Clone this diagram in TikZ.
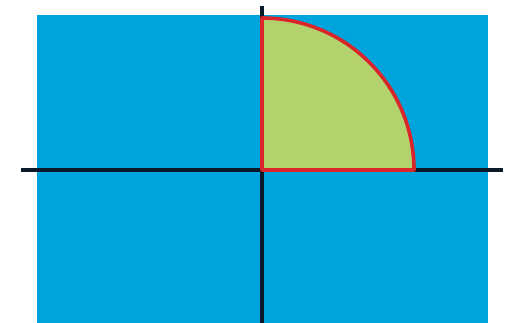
\documentclass[tikz,border=0pt]{standalone}
\usetikzlibrary{positioning}
\definecolor{cblue}{HTML}{00A4DC}
\definecolor{cgreen}{HTML}{B3D26E}
\definecolor{cred}{HTML}{D8262B}
\definecolor{caxis}{HTML}{0B1A28}
\tikzset{
  axis/.style={draw=caxis, line width=4pt},
  sector/.style={draw=cred, fill=cgreen, line width=3.6pt, line join=round},
}

\begin{document}
\begin{tikzpicture}[x=1pt, y=-1pt]
  \useasboundingbox (0,0) rectangle (512,323);
  \fill[cblue] (37,15) rectangle (488,323);
  \coordinate (o) at (262,170);
  \coordinate (xl) at (21,170);
  \coordinate (xr) at (503,170);
  \coordinate (yt) at (262,6);
  \coordinate (yb) at (262,323);
  \draw[axis] (xl) -- (xr);
  \draw[axis] (yt) -- (yb);
  % quarter disc, radius 152
  \draw[sector] (o) -- ++(152,0) arc[start angle=0, end angle=-90, radius=152] -- cycle;
\end{tikzpicture}
\end{document}
